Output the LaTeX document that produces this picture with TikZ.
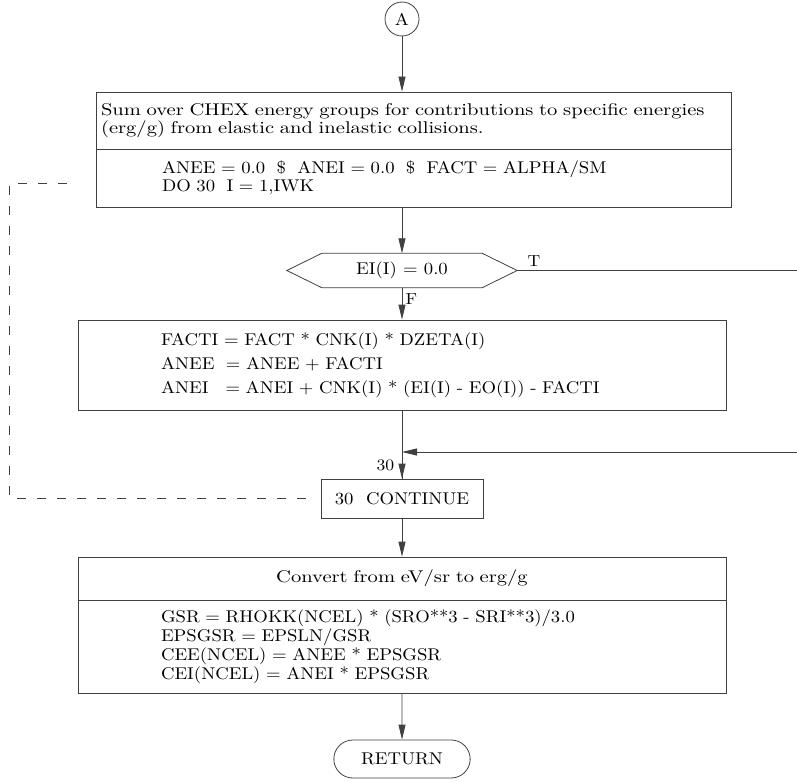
\documentclass[tikz,border=0pt]{standalone}
\usepackage{fontspec}
\usetikzlibrary{shapes.misc,arrows.meta}
\newfontfamily\proseFont{lmroman10-regular.otf}[FakeStretch=1.21]
\newfontfamily\codeFont{lmroman10-regular.otf}[FakeStretch=1.1]
\tikzset{
  flowline/.style={draw=black!75, line width=0.8pt},
  flowarrow/.style={flowline, -{Triangle[length=15pt,width=7pt]}},
  loopline/.style={flowline, dash pattern=on 9pt off 11pt},
  procbox/.style={draw=black!75, line width=0.8pt, inner xsep=5pt, inner ysep=0pt, align=left,
    font=\codeFont\fontsize{17}{18}\selectfont},
  termbox/.style={draw=black!75, line width=0.8pt, font=\codeFont\fontsize{17}{18}\selectfont},
  flowlabel/.style={font=\codeFont\fontsize{16}{17}\selectfont}
}
\begin{document}
\begin{tikzpicture}[x=1pt,y=-1pt]
  \useasboundingbox (0,0) rectangle (797,781);

  % Entry connector
  \node[termbox, circle, minimum size=34pt, inner sep=0pt] (A) at (402,19) {A};

  % Sum over CHEX energy groups
  \node[procbox, text width=625pt, minimum height=57pt, font=\proseFont\fontsize{17}{18}\selectfont] (sumhead) at (413.5,120.5)
    {Sum over CHEX energy groups for contributions to specific energies\\(erg/g) from elastic and inelastic collisions.};
  \node[procbox, text width=625pt, minimum height=58pt] (sumbody) at (413.5,178)
    {\hspace*{61pt}ANEE = 0.0~~\$~~ANEI = 0.0~~\$~~FACT = ALPHA/SM\\
     \hspace*{61pt}DO 30~~I = 1,IWK};

  % Test on EI(I)
  \node[flowlabel, font=\codeFont\fontsize{17}{18}\selectfont, minimum width=230pt, minimum height=34pt] (test) at (402,270.5) {EI(I) = 0.0};
  \draw[flowline] (test.west) -- ([xshift=35pt]test.north west) -- ([xshift=-35pt]test.north east)
    -- (test.east) -- ([xshift=-35pt]test.south east) -- ([xshift=35pt]test.south west) -- cycle;

  % Elastic and inelastic sums
  \node[procbox, text width=638pt, minimum height=90pt,
    font=\codeFont\fontsize{17}{24}\selectfont] (facti) at (402,365)
    {\hspace*{78pt}FACTI = FACT * CNK(I) * DZETA(I)\\
     \hspace*{78pt}ANEE~~= ANEE + FACTI\\
     \hspace*{78pt}ANEI~~~= ANEI + CNK(I) * (EI(I) - EO(I)) - FACTI};

  % Loop end
  \node[procbox, align=center, inner xsep=0pt, minimum width=162pt, minimum height=39pt] (cont) at (402,498.5) {30~~CONTINUE};

  % Convert units
  \node[procbox, align=center, text width=638pt, minimum height=43pt, font=\proseFont\fontsize{17}{18}\selectfont] (convhead) at (402,578.5)
    {Convert from eV/sr to erg/g};
  \node[procbox, text width=638pt, minimum height=93pt,
    font=\codeFont\fontsize{17}{19}\selectfont] (convbody) at (402,646.5)
    {\hspace*{78pt}GSR = RHOKK(NCEL) * (SRO**3 - SRI**3)/3.0\\
     \hspace*{78pt}EPSGSR = EPSLN/GSR\\
     \hspace*{78pt}CEE(NCEL) = ANEE * EPSGSR\\
     \hspace*{78pt}CEI(NCEL) = ANEI * EPSGSR};

  % Exit
  \node[termbox, rounded rectangle, minimum width=143pt, minimum height=38pt] (ret) at (402,759) {RETURN};

  % Free ends at the page edge
  \coordinate (tOut) at (797,270.5);
  \coordinate (tIn) at (797,452);
  \coordinate (loopIn) at (78,183);

  % Connectors
  \draw[flowarrow] (A) -- (A |- sumhead.north);
  \draw[flowarrow] (sumbody.south -| A) -- (test.north);
  \draw[flowline] (test.east) -- node[flowlabel, pos=0.06, above] (tlab) {T} (tOut);
  \draw[flowarrow] (test.south) -- node[flowlabel, pos=0.35, right] (flab) {F} (test.south |- facti.north);
  \draw[flowline] (facti.south -| cont) -- (cont.north);
  \draw[flowarrow] (cont.north) ++(0,-24) -- node[flowlabel, pos=0.45, left, xshift=-4pt] (clab) {30} (cont.north);
  \draw[flowarrow] (tIn) -- (tIn -| cont);
  \draw[flowarrow] (cont) -- (convhead.north -| cont);
  \draw[flowarrow] (convbody.south -| ret) -- (ret);
  \draw[loopline] ([xshift=-15pt]cont.west) -- ++(-296,0) |- (loopIn);
\end{tikzpicture}
\end{document}
